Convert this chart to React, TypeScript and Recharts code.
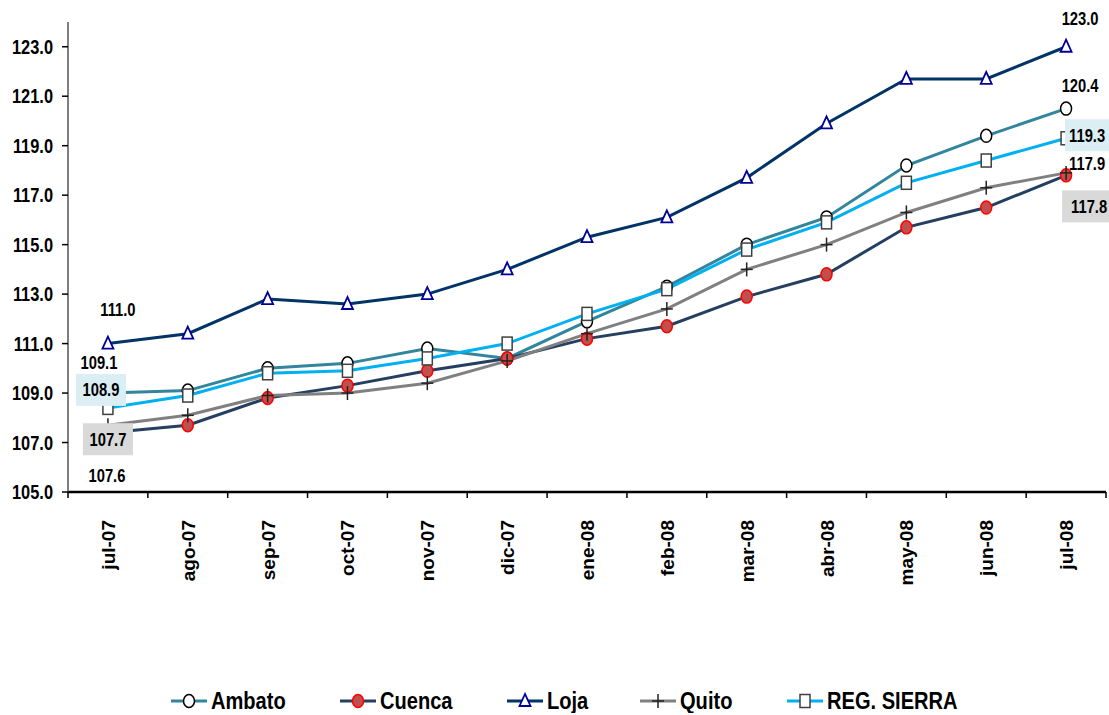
import React from "react";
import { LineChart, Line, XAxis, YAxis, LabelList } from "recharts";

// values
const months = ["jul-07", "ago-07", "sep-07", "oct-07", "nov-07", "dic-07", "ene-08", "feb-08", "mar-08", "abr-08", "may-08", "jun-08", "jul-08"];
const ambato = [109.0, 109.1, 110.0, 110.2, 110.8, 110.4, 111.9, 113.3, 115.0, 116.1, 118.2, 119.4, 120.5];
const cuenca = [107.4, 107.7, 108.8, 109.3, 109.9, 110.4, 111.2, 111.7, 112.9, 113.8, 115.7, 116.5, 117.8];
const loja = [111.0, 111.4, 112.8, 112.6, 113.0, 114.0, 115.3, 116.1, 117.7, 119.9, 121.7, 121.7, 123.0];
const quito = [107.7, 108.1, 108.9, 109.0, 109.4, 110.3, 111.4, 112.4, 114.0, 115.0, 116.3, 117.3, 117.9];
const regSierra = [108.4, 108.9, 109.8, 109.9, 110.4, 111.0, 112.2, 113.2, 114.8, 115.9, 117.5, 118.4, 119.3];

const seriesNames = ["Ambato", "Cuenca", "Loja", "Quito", "REG. SIERRA"];
const startLabels = ["109.1", "107.6", "111.0", "107.7", "108.9"];
const endLabels = ["120.4", "117.8", "123.0", "117.9", "119.3"];
const yTicks = [105, 107, 109, 111, 113, 115, 117, 119, 121, 123];

const data = months.map((m, i) => ({
  month: m,
  Ambato: ambato[i],
  Cuenca: cuenca[i],
  Loja: loja[i],
  Quito: quito[i],
  "REG. SIERRA": regSierra[i],
}));

const FONT = '"Liberation Sans", Arial, sans-serif';
const SQUEEZE = 0.82; // Arial Narrow look

const W = 1109;
const H = 715;
const PLOT_LEFT = 68;
const PLOT_RIGHT = 1106;
const PLOT_TOP = 22;
const PLOT_BOTTOM = 492;
const X_AXIS_H = 110;
const BAND = (PLOT_RIGHT - PLOT_LEFT) / months.length;

const colors = ["#31859C", "#243F60", "#003366", "#808080", "#00B0F0"];
const legendX = [171, 340, 507, 640, 787];

// label placement relative to first / last point
const labelLayout = [
  { start: { dx: -9, dy: -31 }, end: { dx: 14, dy: -23 } },
  { start: { dx: -1, dy: 43 }, end: { dx: 23, dy: 31, box: "#D9D9D9", bl: -27, bw: 56 } },
  { start: { dx: 10, dy: -34 }, end: { dx: 14, dy: -28 } },
  { start: { dx: 0, dy: 14, box: "#D9D9D9", bl: -25, bw: 50 }, end: { dx: 21, dy: -9 } },
  { start: { dx: -7, dy: -18, box: "#DBEEF4", bl: -25, bw: 50 }, end: { dx: 21, dy: -3, box: "#DBEEF4", bl: -22, bw: 50 } },
];

const NarrowText = ({ x, y, size, anchor = "start", children }: any) => (
  <text
    transform={`translate(${x} ${y}) scale(${SQUEEZE} 1)`}
    textAnchor={anchor}
    fontFamily={FONT}
    fontWeight="bold"
    fontSize={size}
    fill="#000"
  >
    {children}
  </text>
);

const Marker = ({ kind, cx, cy }: { kind: number; cx: number; cy: number }) => {
  if (kind === 0) return <ellipse cx={cx} cy={cy} rx={5.5} ry={6.5} fill="#fff" stroke="#000" strokeWidth={1.5} />;
  if (kind === 1) return <ellipse cx={cx} cy={cy} rx={5.5} ry={6.5} fill="#C0504D" stroke="#FF0000" strokeWidth={1.5} />;
  if (kind === 2)
    return (
      <polygon
        points={`${cx},${cy - 7} ${cx - 5.5},${cy + 5} ${cx + 5.5},${cy + 5}`}
        fill="#fff"
        stroke="#000099"
        strokeWidth={1.8}
      />
    );
  if (kind === 3)
    return (
      <g stroke="#222" strokeWidth={1.5}>
        <line x1={cx - 6} y1={cy} x2={cx + 6} y2={cy} />
        <line x1={cx} y1={cy - 7} x2={cx} y2={cy + 7} />
      </g>
    );
  return <rect x={cx - 5} y={cy - 6.5} width={10} height={13} fill="#fff" stroke="#404040" strokeWidth={1.5} />;
};

const XTick = (props: any) => {
  const { x, y, payload, index } = props;
  const axisY = y - 6;
  return (
    <g>
      <line x1={x - BAND / 2} y1={axisY} x2={x - BAND / 2} y2={axisY + 6} stroke="#000" strokeWidth={1.5} />
      {index === months.length - 1 && (
        <line x1={x + BAND / 2} y1={axisY} x2={x + BAND / 2} y2={axisY + 6} stroke="#000" strokeWidth={1.5} />
      )}
      <text
        x={x + 7}
        y={axisY + 28}
        transform={`rotate(-90 ${x + 7} ${axisY + 28})`}
        textAnchor="end"
        fontFamily={FONT}
        fontWeight="bold"
        fontSize={19}
        fill="#000"
      >
        {payload.value}
      </text>
    </g>
  );
};

const YTick = (props: any) => {
  const { x, y, payload } = props;
  return (
    <NarrowText x={x} y={y + 7} size={20} anchor="end">
      {Number(payload.value).toFixed(1)}
    </NarrowText>
  );
};

const makeLabel = (s: number) => (p: any) => {
  const { x, y, index } = p;
  const last = months.length - 1;
  if (index !== 0 && index !== last) return null;
  const lay: any = index === 0 ? labelLayout[s].start : labelLayout[s].end;
  const text = index === 0 ? startLabels[s] : endLabels[s];
  const cx = x + lay.dx;
  const cy = y + lay.dy;
  return (
    <g>
      {lay.box && <rect x={cx + lay.bl} y={cy - 16} width={lay.bw} height={32} fill={lay.box} />}
      <NarrowText x={cx} y={cy + 6.5} size={18} anchor="middle">
        {text}
      </NarrowText>
    </g>
  );
};

const LegendRow = () => (
  <svg width={W} height={35} style={{ position: "absolute", left: 0, top: 678 }}>
    {seriesNames.map((name, s) => (
      <g key={name}>
        <line x1={legendX[s]} y1={23} x2={legendX[s] + 36} y2={23} stroke={colors[s]} strokeWidth={3} />
        <Marker kind={s} cx={legendX[s] + 18} cy={23} />
        <NarrowText x={legendX[s] + 40} y={31} size={24.5}>
          {name}
        </NarrowText>
      </g>
    ))}
  </svg>
);

export default function App() {
  return (
    <div style={{ position: "absolute", left: 0, top: 0, width: W, height: H, background: "#fff" }}>
      <LineChart
        width={W}
        height={H}
        data={data}
        margin={{ top: PLOT_TOP, right: W - PLOT_RIGHT, left: 0, bottom: H - PLOT_BOTTOM - X_AXIS_H }}
      >
        <XAxis
          dataKey="month"
          interval={0}
          height={X_AXIS_H}
          padding={{ left: BAND / 2, right: BAND / 2 }}
          tickLine={false}
          tickSize={6}
          tickMargin={0}
          axisLine={{ stroke: "#000", strokeWidth: 2.5 }}
          tick={<XTick />}
        />
        <YAxis
          width={PLOT_LEFT}
          domain={[105, 124]}
          ticks={yTicks}
          interval={0}
          tickSize={6}
          tickMargin={9}
          axisLine={{ stroke: "#555", strokeWidth: 1.5 }}
          tickLine={{ stroke: "#000", strokeWidth: 1.5 }}
          tick={<YTick />}
        />
        {seriesNames.map((name, s) => (
          <Line
            key={name}
            dataKey={name}
            stroke={colors[s]}
            strokeWidth={3}
            isAnimationActive={false}
            activeDot={false}
            dot={(p: any) => <Marker key={`${name}-${p.index}`} kind={s} cx={p.cx} cy={p.cy} />}
          >
            <LabelList dataKey={name} content={makeLabel(s)} />
          </Line>
        ))}
      </LineChart>
      <LegendRow />
    </div>
  );
}
